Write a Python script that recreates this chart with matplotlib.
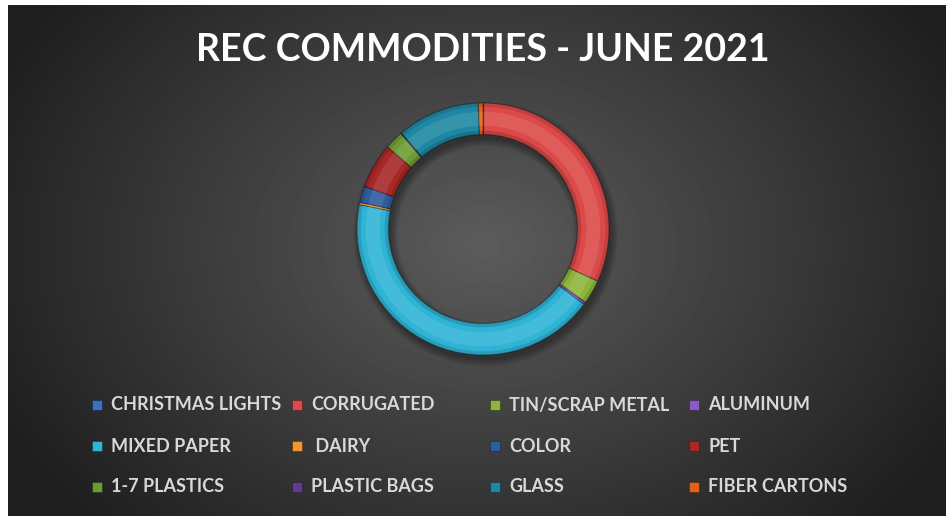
"""
REC commodities donut chart, June 2021
"""
import matplotlib
matplotlib.use('Agg')
import matplotlib.pyplot as plt
from matplotlib.patches import Wedge, Rectangle
import numpy as np

title = 'REC COMMODITIES - JUNE 2021'

commodities = ['CHRISTMAS LIGHTS', 'CORRUGATED', 'TIN/SCRAP METAL', 'ALUMINUM',
               'MIXED PAPER', ' DAIRY', 'COLOR', 'PET',
               '1-7 PLASTICS', 'PLASTIC BAGS', 'GLASS', 'FIBER CARTONS']
# share of total (%)
shares = [0.1, 31.7, 3.1, 0.3, 42.9, 0.3, 2.1, 5.8, 2.4, 0.1, 10.6, 0.6]
colors = ['#3B6FC4', '#DB4A48', '#8DB53C', '#8A5BC4', '#2FB4D6', '#F0962E',
          '#2E5C9E', '#A82828', '#6E9A34', '#5E3E8C', '#1F87A3', '#E0631C']

W, H = 946, 516
fig = plt.figure(figsize=(W / 100, H / 100), dpi=100, facecolor='white')

# background panel with radial gradient
bg = fig.add_axes([8 / W, 0, (W - 8) / W, (H - 5) / H])
yy, xx = np.mgrid[0:H - 5, 0:W - 8]
d = np.sqrt(((xx - 475) / 560.0) ** 2 + ((yy - 240) / 420.0) ** 2)
shade = np.clip(0.36 - 0.25 * d, 0.12, 0.36)
bg.imshow(shade, cmap='gray', vmin=0, vmax=1, aspect='auto', interpolation='bilinear')
bg.set_axis_off()

cx, cy, r = 483, 229, 126
ax = fig.add_axes([(cx - r) / W, (H - cy - r) / H, 2 * r / W, 2 * r / H])
ax.set_facecolor('none')

# soft drop shadow
for k in range(6):
    ax.add_patch(Wedge((0.02, -0.04), 1.0 + 0.01 * k, 0, 360, width=0.25 + 0.02 * k,
                       facecolor='black', alpha=0.06, linewidth=0, clip_on=False))

wedges, _ = ax.pie(shares, colors=colors, startangle=90, counterclock=False,
                   radius=1.0, wedgeprops=dict(width=0.25, edgecolor='#00000055',
                                               linewidth=0.8, clip_on=False))

# bevel shading on the ring
ax.add_patch(Wedge((0, 0), 0.93, 0, 360, width=0.11, facecolor='white',
                   alpha=0.10, linewidth=0))
ax.add_patch(Wedge((0, 0), 1.0, 0, 360, width=0.03, facecolor='black',
                   alpha=0.12, linewidth=0, clip_on=False))
ax.add_patch(Wedge((0, 0), 0.78, 0, 360, width=0.03, facecolor='black',
                   alpha=0.15, linewidth=0))
ax.set_xlim(-1.0, 1.0)
ax.set_ylim(-1.0, 1.0)
ax.set_axis_off()

fig.text(483 / W, 1 - 50 / H, title, ha='center', va='center', color='white',
         fontsize=27, fontweight='bold', family=['Lato', 'DejaVu Sans'])

# legend, four per row like the original
col_x = [97, 297, 495, 694]
row_y = [405, 446, 487]
for i, (name, c) in enumerate(zip(commodities, colors)):
    x = col_x[i % 4]
    y = row_y[i // 4]
    fig.patches.append(Rectangle(((x - 5) / W, 1 - (y + 5) / H), 10 / W, 10 / H,
                                 transform=fig.transFigure, facecolor=c,
                                 edgecolor='#00000066', linewidth=0.5))
    fig.text((x + 14) / W, 1 - y / H, name, ha='left', va='center',
             color='#D9D9D9', fontsize=13, fontweight='bold',
             family=['Lato', 'DejaVu Sans'])

fig.savefig('out.png', dpi=100, facecolor='white')
